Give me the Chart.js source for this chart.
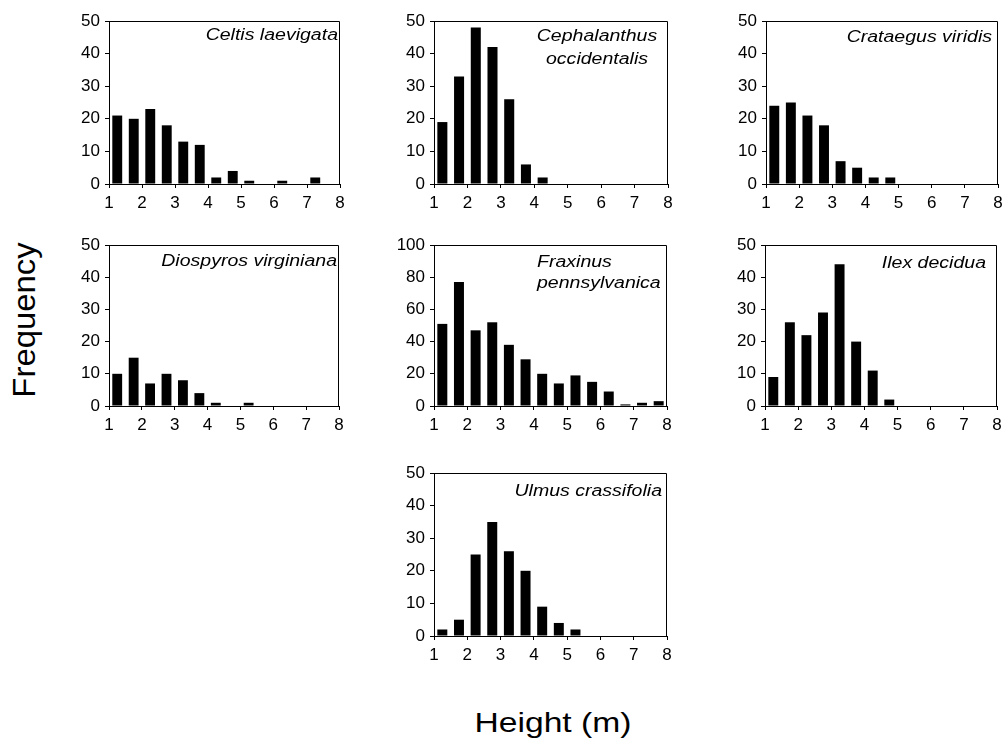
<!DOCTYPE html>
<html>
<head>
<meta charset="utf-8">
<title>Height frequency by species</title>
<script src="https://cdn.jsdelivr.net/npm/chart.js@4.4.0/dist/chart.umd.min.js"></script>
<style>
  body { margin: 0; background: #fff; width: 1005px; height: 741px; position: relative; overflow: hidden;
         font-family: "Liberation Sans", Arial, sans-serif; }
  .panel { position: absolute; }
  .axis-title { position: absolute; white-space: nowrap; line-height: 1; color: #000; }
  #ytitle { font-size: 31px; left: 24px; top: 320px; transform: translate(-50%, -50%) rotate(-90deg) scaleX(1.06); }
  #xtitle { font-size: 28px; left: 553px; top: 709px; transform: translateX(-50%) scaleX(1.2); }
</style>
</head>
<body>
<div class="axis-title" id="ytitle">Frequency</div>
<div class="axis-title" id="xtitle">Height (m)</div>

<script>
// height classes (0.5 m bins, centre of each bin)
const binCenters = [1.25, 1.75, 2.25, 2.75, 3.25, 3.75, 4.25, 4.75, 5.25, 5.75, 6.25, 6.75, 7.25, 7.75];

// frequency per bin
const celtis       = [21, 20, 23, 18, 13, 12, 2, 4, 1, 0, 1, 0, 2, 0];
const cephalanthus = [19, 33, 48, 42, 26, 6, 2, 0, 0, 0, 0, 0, 0, 0];
const crataegus    = [24, 25, 21, 18, 7, 5, 2, 2, 0, 0, 0, 0, 0, 0];
const diospyros    = [10, 15, 7, 10, 8, 4, 1, 0, 1, 0, 0, 0, 0, 0];
const fraxinus     = [51, 77, 47, 52, 38, 29, 20, 14, 19, 15, 9, 1, 2, 3];
const ilex         = [9, 26, 22, 29, 44, 20, 11, 2, 0, 0, 0, 0, 0, 0];
const ulmus        = [2, 5, 25, 35, 26, 20, 9, 4, 2, 0, 0, 0, 0, 0];

const speciesLines = [
    ['Celtis laevigata'],
    ['Cephalanthus', 'occidentalis'],
    ['Crataegus viridis'],
    ['Diospyros virginiana'],
    ['Fraxinus', 'pennsylvanica'],
    ['Ilex decidua'],
    ['Ulmus crassifolia']
];
const yMaxes = [50, 50, 50, 50, 100, 50, 50];
const ySteps = [10, 10, 10, 10, 20, 10, 10];
const xMin = 1, xMax = 8, xStep = 1;

const seriesList = [celtis, cephalanthus, crataegus, diospyros, fraxinus, ilex, ulmus];

// plot area of each panel on the page: [left, top, width, height]
const plotBoxes = [
    [109, 21, 231, 163],
    [434, 21, 234, 163],
    [766, 21, 232, 163],
    [109, 245, 230, 161],
    [434, 245, 233, 161],
    [765, 245, 232, 161],
    [434, 473, 233, 163]
];
// where the species name sits inside the plot
const labelPlaces = [
    { anchor: 'right', align: 'right', dx: -2, baselines: [19] },
    { anchor: 'right', align: 'center', dx: -71, baselines: [20, 43] },
    { anchor: 'right', align: 'right', dx: -6, baselines: [21] },
    { anchor: 'right', align: 'right', dx: -2, baselines: [21] },
    { anchor: 'left', align: 'left', dx: 103, baselines: [22, 43] },
    { anchor: 'right', align: 'right', dx: -11, baselines: [23] },
    { anchor: 'right', align: 'right', dx: -5, baselines: [23] }
];

const AXIS_W = 46, AXIS_H = 32, PAD_TOP = 12, PAD_RIGHT = 14;
const tickFont = { family: '"Liberation Sans", Arial, sans-serif', size: 17 };

// closes the box (top + right) and writes the species name
const framePlugin = {
    id: 'frameAndName',
    afterDraw(chart, args, opts) {
        const { ctx, chartArea: a } = chart;
        ctx.save();
        ctx.strokeStyle = '#000';
        ctx.lineWidth = 1;
        ctx.beginPath();
        ctx.moveTo(a.left, Math.round(a.top) + 0.5);
        ctx.lineTo(Math.round(a.right) - 0.5, Math.round(a.top) + 0.5);
        ctx.lineTo(Math.round(a.right) - 0.5, a.bottom);
        ctx.stroke();

        ctx.fillStyle = '#000';
        ctx.font = 'italic 16px "Liberation Sans", Arial, sans-serif';
        ctx.textBaseline = 'alphabetic';
        ctx.textAlign = opts.align;
        const x = (opts.anchor === 'right' ? a.right : a.left) + opts.dx;
        opts.lines.forEach((line, i) => {
            ctx.save();
            ctx.translate(x, a.top + opts.baselines[i]);
            ctx.scale(1.22, 1);
            ctx.fillText(line, 0, 0);
            ctx.restore();
        });
        ctx.restore();
    }
};

seriesList.forEach((values, i) => {
    const [left, top, w, h] = plotBoxes[i];
    const wrap = document.createElement('div');
    wrap.className = 'panel';
    wrap.style.left = (left - AXIS_W) + 'px';
    wrap.style.top = (top - PAD_TOP) + 'px';
    wrap.style.width = (AXIS_W + w + PAD_RIGHT) + 'px';
    wrap.style.height = (PAD_TOP + h + AXIS_H) + 'px';
    const canvas = document.createElement('canvas');
    wrap.appendChild(canvas);
    document.body.appendChild(wrap);

    new Chart(canvas.getContext('2d'), {
        type: 'bar',
        data: {
            datasets: [{
                data: binCenters.map((x, k) => ({ x: x, y: values[k] })),
                backgroundColor: '#000',
                borderWidth: 0,
                barPercentage: 0.6,
                categoryPercentage: 1.0
            }]
        },
        options: {
            responsive: true,
            maintainAspectRatio: false,
            animation: false,
            events: [],
            layout: { padding: { top: PAD_TOP, right: PAD_RIGHT, left: 0, bottom: 0 } },
            scales: {
                x: {
                    type: 'linear',
                    min: xMin,
                    max: xMax,
                    offset: false,
                    afterFit: (scale) => {
                        scale.height = AXIS_H;
                        scale.paddingLeft = 0;
                        scale.paddingRight = 0;
                    },
                    ticks: { stepSize: xStep, font: tickFont, color: '#000', padding: 5, maxRotation: 0, autoSkip: false },
                    grid: { offset: false, drawOnChartArea: false, drawTicks: true, tickLength: 4, color: '#000' },
                    border: { display: true, color: '#000', width: 1 }
                },
                y: {
                    min: 0,
                    max: yMaxes[i],
                    afterFit: (scale) => {
                        scale.width = AXIS_W;
                        scale.paddingTop = 0;
                        scale.paddingBottom = 0;
                    },
                    ticks: { stepSize: ySteps[i], font: tickFont, color: '#000', padding: 5 },
                    grid: { drawOnChartArea: false, drawTicks: true, tickLength: 4, color: '#000' },
                    border: { display: true, color: '#000', width: 1 }
                }
            },
            plugins: {
                legend: { display: false },
                tooltip: { enabled: false },
                frameAndName: Object.assign({ lines: speciesLines[i] }, labelPlaces[i])
            }
        },
        plugins: [framePlugin]
    });
});
</script>
</body>
</html>
